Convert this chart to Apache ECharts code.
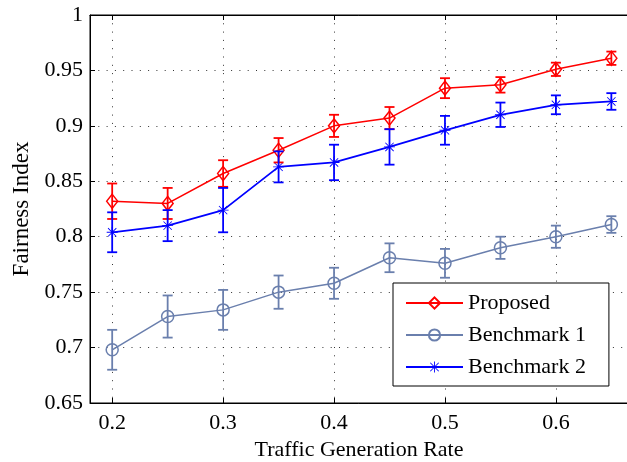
<!DOCTYPE html>
<html>
<head>
<meta charset="utf-8">
<script src="https://cdn.jsdelivr.net/npm/echarts@6/dist/echarts.min.js"></script>
<style>
  html, body { margin: 0; padding: 0; background: #fff; }
  #chart { width: 627px; height: 462px; }
</style>
</head>
<body>
<div id="chart"></div>
<script>
// Traffic generation rates (x) and mean fairness index per scheme, with error half-widths
const rates = [0.2, 0.25, 0.3, 0.35, 0.4, 0.45, 0.5, 0.55, 0.6, 0.65];

const proposedMean = [0.832, 0.830, 0.857, 0.878, 0.900, 0.907, 0.934, 0.937, 0.951, 0.961];
const proposedErr  = [0.016, 0.014, 0.012, 0.011, 0.010, 0.010, 0.009, 0.007, 0.006, 0.006];

const bench1Mean = [0.698, 0.728, 0.734, 0.750, 0.758, 0.781, 0.776, 0.790, 0.800, 0.811];
const bench1Err  = [0.018, 0.019, 0.018, 0.015, 0.014, 0.013, 0.013, 0.010, 0.010, 0.0075];

const bench2Mean = [0.804, 0.810, 0.824, 0.863, 0.867, 0.881, 0.896, 0.910, 0.919, 0.922];
const bench2Err  = [0.018, 0.014, 0.020, 0.014, 0.016, 0.016, 0.013, 0.011, 0.0085, 0.0075];

const seriesNames = ['Proposed', 'Benchmark 1', 'Benchmark 2'];
const colors = ['#ff0000', '#6a7fad', '#0000ff'];

const FONT = 'Liberation Serif';

// MATLAB-like asterisk marker (vertical, horizontal and two diagonal bars)
const asterisk = 'path://M9.2 0H10.8V20H9.2Z M0 9.2H20V10.8H0Z ' +
  'M1.9 3L3 1.9L18.1 17L17 18.1Z M17 1.9L18.1 3L3 18.1L1.9 17Z';

function pairs(means) {
  return rates.map((r, i) => [r, means[i]]);
}

function errData(means, errs) {
  return rates.map((r, i) => [r, means[i] - errs[i], means[i] + errs[i]]);
}

function errorBarSeries(name, means, errs, color) {
  return {
    name: name,
    type: 'custom',
    z: 5,
    silent: true,
    data: errData(means, errs),
    encode: { x: 0, y: [1, 2] },
    renderItem: function (params, api) {
      const x = api.value(0);
      const lo = api.coord([x, api.value(1)]);
      const hi = api.coord([x, api.value(2)]);
      const hw = 5;
      const st = { stroke: color, lineWidth: 1.8 };
      return {
        type: 'group',
        children: [
          { type: 'line', shape: { x1: lo[0], y1: lo[1], x2: hi[0], y2: hi[1] }, style: st },
          { type: 'line', shape: { x1: lo[0] - hw, y1: lo[1], x2: lo[0] + hw, y2: lo[1] }, style: st },
          { type: 'line', shape: { x1: hi[0] - hw, y1: hi[1], x2: hi[0] + hw, y2: hi[1] }, style: st }
        ]
      };
    }
  };
}

function lineSeries(name, means, color, symbol, size, lw) {
  return {
    name: name,
    type: 'line',
    data: pairs(means),
    symbol: symbol,
    symbolSize: size,
    symbolKeepAspect: true,
    z: 3,
    lineStyle: { color: color, width: lw },
    itemStyle: symbol.indexOf('path://') === 0
      ? { color: color, borderWidth: 0 }
      : { color: 'rgba(0,0,0,0)', borderColor: color, borderWidth: 1.5 },
    emphasis: { disabled: true }
  };
}

const gridDots = { color: '#333', width: 1, type: [1, 7.3] };

const chart = echarts.init(document.getElementById('chart'), null, { renderer: 'canvas' });

chart.setOption({
  animation: false,
  backgroundColor: '#fff',
  textStyle: { fontFamily: FONT },
  grid: {
    left: 90, top: 15, right: -1, bottom: 59,
    outerBoundsMode: 'none',
    containLabel: false,
    show: true, borderColor: '#000', borderWidth: 1, backgroundColor: 'transparent'
  },
  legend: {
    orient: 'vertical',
    left: 393, top: 283,
    padding: [9, 23, 8, 12],
    itemGap: 10,
    itemWidth: 57,
    itemHeight: 14,
    backgroundColor: '#fff',
    borderColor: '#000',
    borderWidth: 1,
    borderRadius: 0,
    textStyle: { fontFamily: FONT, fontSize: 22, color: '#000', lineHeight: 22 },
    data: seriesNames
  },
  xAxis: [{
    type: 'value',
    min: 0.18, max: 0.665,
    minInterval: 0.1, maxInterval: 0.1,
    name: 'Traffic Generation Rate',
    nameLocation: 'middle',
    nameGap: 29,
    nameTextStyle: { fontFamily: FONT, fontSize: 22, color: '#000' },
    axisLine: { show: true, onZero: false, lineStyle: { color: '#000', width: 1 } },
    axisTick: { show: true, inside: true, length: 5, lineStyle: { color: '#000' } },
    axisLabel: {
      showMinLabel: false, showMaxLabel: false, margin: 9,
      fontFamily: FONT, fontSize: 22, color: '#000',
      formatter: v => String(+v.toFixed(2))
    },
    splitLine: { show: true, lineStyle: gridDots }
  }, {
    type: 'value',
    position: 'top',
    min: 0.18, max: 0.665,
    minInterval: 0.1, maxInterval: 0.1,
    axisLine: { show: true, onZero: false, lineStyle: { color: '#000', width: 1 } },
    axisTick: { show: true, inside: true, length: 5, lineStyle: { color: '#000' } },
    axisLabel: { show: false },
    splitLine: { show: false }
  }],
  yAxis: {
    type: 'value',
    min: 0.65, max: 1, interval: 0.05,
    name: 'Fairness Index',
    nameLocation: 'middle',
    nameGap: 57,
    nameTextStyle: { fontFamily: FONT, fontSize: 23, color: '#000' },
    axisLine: { show: true, onZero: false, lineStyle: { color: '#000', width: 1 } },
    axisTick: { show: true, inside: true, length: 5, lineStyle: { color: '#000' } },
    axisLabel: {
      margin: 7, fontFamily: FONT, fontSize: 22, color: '#000',
      formatter: v => String(+v.toFixed(2))
    },
    splitLine: { show: true, lineStyle: gridDots }
  },
  series: [
    lineSeries(seriesNames[0], proposedMean, colors[0], 'diamond', [11, 14], 1.5),
    lineSeries(seriesNames[1], bench1Mean, colors[1], 'circle', 12, 1.5),
    lineSeries(seriesNames[2], bench2Mean, colors[2], asterisk, 11, 1.8),
    errorBarSeries(seriesNames[0], proposedMean, proposedErr, colors[0]),
    errorBarSeries(seriesNames[1], bench1Mean, bench1Err, colors[1]),
    errorBarSeries(seriesNames[2], bench2Mean, bench2Err, colors[2])
  ]
});
</script>
</body>
</html>
